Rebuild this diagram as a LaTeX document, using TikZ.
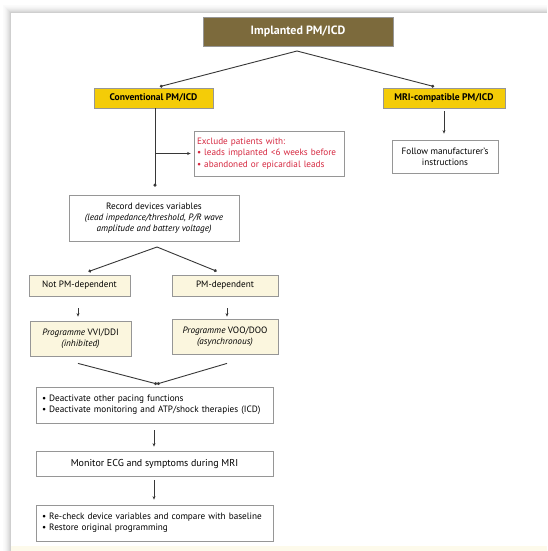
\documentclass[tikz,border=0pt]{standalone}
\usepackage{fontspec}
\setmainfont{PT Sans}
\usetikzlibrary{arrows.meta}
\definecolor{olive}{RGB}{124,106,60}
\definecolor{yel}{RGB}{244,204,8}
\definecolor{cream}{RGB}{251,246,222}
\definecolor{redtxt}{RGB}{214,40,64}
\definecolor{bord}{RGB}{150,150,150}
\definecolor{lin}{RGB}{55,55,55}
\tikzset{
  box/.style={draw=bord, line width=0.8pt, inner sep=1pt, align=center, font=\fontsize{9.2}{11.2}\selectfont},
  conn/.style={draw=lin, line width=0.9pt, -{Circle[length=3pt]}},
  arr/.style={draw=lin, line width=0.7pt, -{Stealth[length=3.5pt,width=3pt]}},
}
\begin{document}
\begin{tikzpicture}[x=1pt,y=-1pt]
\useasboundingbox (0,0) rectangle (547,551);
\fill[white] (0,0) rectangle (547,551);
% shadow of panel
\foreach \i/\c in {1/38,2/30,3/23,4/17,5/12,6/8,7/5,8/3}{
  \draw[gray!\c, line width=1pt] (11.5-\i,551) -- (11.5-\i,13.5-\i) -- (547,13.5-\i);
}
\fill[white] (11,13) rectangle (547,551);
\fill[cream!60] (11,546) rectangle (547,551);

% nodes
\node[box, fill=olive, text=white, minimum width=190pt, minimum height=29pt, font=\fontsize{12}{14}\selectfont\bfseries] (top) at (298,31.5) {Implanted PM/ICD};
\node[box, fill=yel, minimum width=119pt, minimum height=20pt, font=\fontsize{9.6}{11}\selectfont\bfseries] (conv) at (153.5,98) {Conventional PM/ICD};
\node[box, fill=yel, minimum width=122pt, minimum height=20pt, font=\fontsize{9.6}{11}\selectfont\bfseries] (mri) at (444,98) {MRI-compatible PM/ICD};
\node[box, text=redtxt, minimum width=150pt, minimum height=45pt, text width=144pt, align=left] (excl) at (269,153.5) {Exclude patients with:\\ • leads implanted <6 weeks before\\ • abandoned or epicardial leads};
\node[box, minimum width=106pt, minimum height=33pt] (follow) at (445,156.5) {Follow manufacturer's\\ instructions};
\node[box, minimum width=170pt, minimum height=46pt] (record) at (154,218) {Record devices variables\\ \itshape (lead impedance/threshold, P/R wave\\ \itshape amplitude and battery voltage)};
\node[box, fill=cream, minimum width=101pt, minimum height=21pt] (notpm) at (79.5,285.5) {Not PM-dependent};
\node[box, fill=cream, minimum width=106pt, minimum height=21pt] (pm) at (225,285.5) {PM-dependent};
\node[box, fill=cream, minimum width=101pt, minimum height=35pt] (vvi) at (80.5,338.5) {\textit{Programme} VVI/DDI\\ \textit{(inhibited)}};
\node[box, fill=cream, minimum width=106pt, minimum height=35pt] (voo) at (225,336.5) {\textit{Programme} VOO/DOO\\ \textit{(asynchronous)}};
\node[box, minimum width=237pt, minimum height=36pt, text width=225pt, align=left] (deact) at (154.5,405) {\mbox{• Deactivate other pacing functions}\\ \mbox{• Deactivate monitoring and ATP/shock therapies (ICD)}};
\node[box, minimum width=237pt, minimum height=25pt, font=\fontsize{10}{12}\selectfont] (mon) at (154.5,463.5) {Monitor ECG and symptoms during MRI};
\node[box, minimum width=237pt, minimum height=36pt, text width=225pt, align=left] (rech) at (154.5,523) {\mbox{• Re-check device variables and compare with baseline}\\ \mbox{• Restore original programming}};

% connectors
\coordinate (ap1) at (297,51);
\draw[conn, shorten >=4pt] (ap1) -- (conv.north -| 156,0);
\draw[conn, shorten >=4pt] (ap1) -- (mri.north -| 438,0);
\draw[conn, shorten >=8pt] (conv.south -| 155,0) -- (record.north -| 155,0);
\coordinate (br) at (155,153.5);
\draw[arr, line width=0.8pt, shorten >=3pt] (br) -- (excl.west);
\draw[arr, shorten <=3pt, shorten >=6pt] (mri.south) -- (follow.north -| mri.south);
\coordinate (ap2) at (157,247);
\draw[conn, shorten >=9pt] (ap2) -- (notpm.north -| 80,0);
\draw[conn, shorten >=9pt] (ap2) -- (pm.north -| 225,0);
\draw[arr, shorten <=12pt, shorten >=4pt] (notpm.south -| 78,0) -- (vvi.north -| 78,0);
\draw[arr, shorten <=12pt, shorten >=2pt] (pm.south -| 227,0) -- (voo.north -| 227,0);
\coordinate (ap3) at (157,384);
\draw[conn] (vvi.south -| 78,0) ++(0,7) -- (ap3);
\draw[conn] (voo.south -| 227,0) ++(0,9) -- (ap3);
\draw[arr, shorten <=7pt, shorten >=4pt] (deact.south -| 154,0) -- (mon.north -| 154,0);
\draw[arr, shorten <=4pt, shorten >=5pt] (mon.south -| 154,0) -- (rech.north -| 154,0);
\end{tikzpicture}
\end{document}
